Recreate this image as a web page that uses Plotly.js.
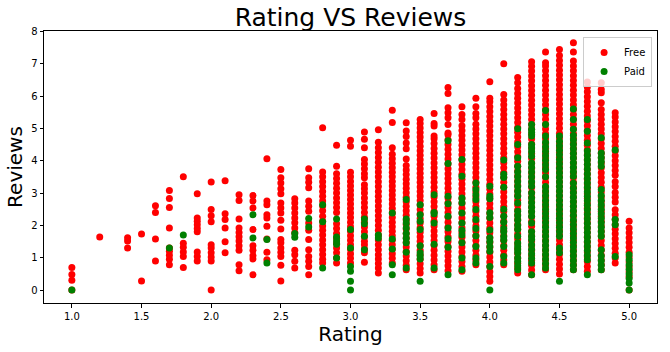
<!DOCTYPE html>
<html>
<head>
<meta charset="utf-8">
<script src="https://cdn.plot.ly/plotly-3.0.1.min.js"></script>
<style>html,body{margin:0;padding:0;background:#fff}#chart{width:670px;height:352px}</style>
</head>
<body>
<div id="chart"></div>
<script>
// Ratings (x) and log10(Reviews) values (y), per rating column
const freeRatings = [1.0, 1.2, 1.4, 1.5, 1.6, 1.7, 1.8, 1.9, 2.0, 2.1, 2.2, 2.3, 2.4, 2.5, 2.6, 2.7, 2.8, 2.9,
  3.0, 3.1, 3.2, 3.3, 3.4, 3.5, 3.6, 3.7, 3.8, 3.9, 4.0, 4.1, 4.2, 4.3, 4.4, 4.5, 4.6, 4.7, 4.8, 4.9, 5.0];
const freeReviews = [
  [0, 0.30, 0.48, 0.70],
  [1.64],
  [1.30, 1.52, 1.62],
  [0.28, 1.73],
  [0.90, 1.58, 2.40, 2.61],
  [0.78, 0.95, 1.08, 1.20, 1.30, 1.92, 2.55, 2.83, 3.08],
  [0.70, 1.04, 1.18, 1.32, 1.45, 3.50],
  [0.90, 1.04, 1.18, 1.80, 1.90, 2.02, 2.13, 2.23, 2.98],
  [0, 0.90, 1.02, 1.15, 1.30, 1.40, 2.11, 2.30, 2.49, 3.34],
  [1.15, 1.49, 1.92, 2.18, 2.36, 3.38],
  [0.60, 0.78, 1.23, 1.37, 1.52, 1.65, 1.78, 1.92, 2.20, 2.77, 2.95],
  [0.47, 0.96, 1.06, 1.23, 1.37, 1.87, 2.54, 2.75, 2.92],
  [0.94, 1.17, 1.58, 1.97, 2.23, 2.33, 2.64, 2.75, 4.06],
  [0.28, 0.77, 1.04, 1.17, 1.30, 1.46, 1.56, 1.89, 2.16, 2.38, 2.54, 2.69, 2.98, 3.13, 3.31, 3.47, 3.73],
  [0.68, 0.89, 1.09, 1.23, 1.77, 1.92, 2.08, 2.23, 2.38, 2.54, 2.69, 2.82],
  [0.47, 0.73, 0.89, 1.04, 1.25, 1.56, 1.85, 2.07, 2.44, 2.59, 2.75, 3.16, 3.33, 3.47, 3.75],
  [0.84, 0.95, 1.10, 1.25, 1.40, 1.55, 1.70, 1.85, 1.98, 2.13, 2.28, 2.45, 2.60, 2.75, 2.90, 3.05, 3.20, 3.35, 3.50, 3.65, 5.02],
  [0.84, 1.00, 1.15, 1.30, 1.45, 1.60, 1.75, 1.90, 2.05, 2.40, 2.55, 2.70, 2.85, 3.00, 3.15, 3.30, 3.45, 3.60, 3.83, 4.48],
  [0.84, 0.98, 1.12, 1.26, 1.40, 1.54, 1.68, 1.82, 1.96, 2.10, 2.24, 2.38, 2.52, 2.66, 2.80, 2.94, 3.08, 3.22, 3.36, 3.50, 3.64, 4.45, 4.63],
  [0.86, 1.15, 1.27, 1.40, 1.51, 1.65, 1.80, 1.95, 2.10, 2.25, 2.40, 2.55, 2.70, 2.85, 3.00, 3.13, 3.26, 3.47, 3.60, 3.75, 3.90, 4.04, 4.40, 4.66, 4.89],
  [0.53, 0.68, 0.82, 0.96, 1.09, 1.25, 1.40, 1.55, 1.70, 1.85, 2.00, 2.15, 2.30, 2.45, 2.60, 2.75, 2.90, 3.05, 3.20, 3.35, 3.50, 3.65, 3.80, 3.95, 4.10, 4.25, 4.40, 4.57, 4.96],
  [0.84, 0.98, 1.12, 1.26, 1.40, 1.54, 1.68, 1.82, 1.96, 2.10, 2.24, 2.38, 2.52, 2.66, 2.80, 2.94, 3.08, 3.22, 3.36, 3.50, 3.64, 3.78, 3.92, 4.06, 4.20, 4.40, 5.18, 5.56],
  [0.63, 0.77, 0.91, 1.05, 1.19, 1.33, 1.47, 1.61, 1.75, 1.89, 2.03, 2.17, 2.31, 2.45, 2.59, 2.73, 2.87, 3.01, 3.15, 3.29, 3.43, 3.57, 3.71, 3.85, 4.05, 4.37, 4.55, 4.75, 4.92, 5.17],
  [0.53, 0.67, 0.81, 0.95, 1.09, 1.23, 1.37, 1.51, 1.65, 1.79, 1.93, 2.07, 2.21, 2.35, 2.49, 2.63, 2.77, 2.91, 3.05, 3.19, 3.33, 3.47, 3.61, 3.75, 3.89, 4.03, 4.17, 4.31, 4.45, 4.59, 4.73, 4.87, 5.01, 5.15, 5.27],
  [0.63, 0.78, 0.93, 1.08, 1.23, 1.38, 1.53, 1.68, 1.83, 1.98, 2.13, 2.28, 2.43, 2.58, 2.73, 2.88, 3.03, 3.18, 3.33, 3.48, 3.63, 3.78, 3.93, 4.08, 4.23, 4.38, 4.53, 4.68, 4.76, 5.07, 5.15, 5.46],
  [0.60, 0.75, 0.90, 1.05, 1.20, 1.35, 1.50, 1.65, 1.80, 1.95, 2.10, 2.25, 2.40, 2.55, 2.70, 2.85, 3.00, 3.15, 3.30, 3.45, 3.60, 3.75, 3.90, 4.05, 4.20, 4.35, 4.50, 4.65, 4.80, 4.86, 5.12, 5.33, 5.48, 5.64, 6.08, 6.26],
  [0.58, 0.73, 0.88, 1.03, 1.18, 1.33, 1.48, 1.63, 1.78, 1.93, 2.08, 2.23, 2.38, 2.53, 2.68, 2.83, 2.98, 3.13, 3.28, 3.43, 3.58, 3.73, 3.88, 4.03, 4.18, 4.33, 4.48, 4.63, 4.78, 4.93, 5.08, 5.27, 5.43, 5.67],
  [0.78, 0.93, 1.08, 1.23, 1.38, 1.53, 1.68, 1.83, 1.98, 2.13, 2.28, 2.43, 2.58, 2.73, 2.88, 3.03, 3.18, 3.33, 3.48, 3.63, 3.78, 3.93, 4.08, 4.23, 4.38, 4.53, 4.68, 4.83, 4.98, 5.13, 5.33, 5.46, 5.67, 5.93],
  [0.27, 0.42, 0.57, 0.72, 0.87, 1.02, 1.17, 1.32, 1.47, 1.62, 1.77, 1.92, 2.07, 2.22, 2.37, 2.52, 2.67, 2.82, 2.97, 3.12, 3.27, 3.42, 3.57, 3.72, 3.87, 4.02, 4.17, 4.32, 4.47, 4.62, 4.77, 4.92, 5.07, 5.22, 5.37, 5.52, 5.67, 5.82, 5.93, 6.44],
  [0.78, 0.93, 1.08, 1.23, 1.38, 1.53, 1.68, 1.83, 1.98, 2.13, 2.28, 2.43, 2.58, 2.73, 2.88, 3.03, 3.18, 3.33, 3.48, 3.63, 3.78, 3.93, 4.08, 4.23, 4.38, 4.53, 4.68, 4.83, 4.98, 5.13, 5.28, 5.43, 5.58, 5.73, 5.88, 6.05, 7.00],
  [0.53, 0.68, 0.83, 0.98, 1.13, 1.28, 1.43, 1.58, 1.73, 1.88, 2.03, 2.18, 2.33, 2.48, 2.63, 2.78, 2.93, 3.08, 3.23, 3.38, 3.53, 3.68, 3.83, 3.98, 4.13, 4.28, 4.43, 4.58, 4.73, 4.88, 5.03, 5.18, 5.33, 5.48, 5.63, 5.78, 5.93, 6.08, 6.23, 6.41, 6.57],
  [0.47, 0.62, 0.77, 0.92, 1.07, 1.22, 1.37, 1.52, 1.67, 1.82, 1.97, 2.12, 2.27, 2.42, 2.57, 2.72, 2.87, 3.02, 3.17, 3.32, 3.47, 3.62, 3.77, 3.92, 4.07, 4.22, 4.37, 4.52, 4.67, 4.82, 4.97, 5.12, 5.27, 5.42, 5.57, 5.72, 5.87, 6.02, 6.17, 6.32, 6.47, 6.62, 6.77, 6.92, 7.06],
  [0.63, 0.78, 0.93, 1.08, 1.23, 1.38, 1.53, 1.68, 1.83, 1.98, 2.13, 2.28, 2.43, 2.58, 2.73, 2.88, 3.03, 3.18, 3.33, 3.48, 3.63, 3.78, 3.93, 4.08, 4.23, 4.38, 4.53, 4.68, 4.83, 4.98, 5.13, 5.28, 5.43, 5.58, 5.73, 5.88, 6.03, 6.18, 6.33, 6.48, 6.63, 6.78, 6.93, 7.03, 7.36],
  [0.50, 0.65, 0.80, 0.95, 1.10, 1.25, 1.40, 1.55, 1.70, 1.85, 2.00, 2.15, 2.30, 2.45, 2.60, 2.75, 2.90, 3.05, 3.20, 3.35, 3.50, 3.65, 3.80, 3.95, 4.10, 4.25, 4.40, 4.55, 4.70, 4.85, 5.00, 5.15, 5.30, 5.45, 5.60, 5.75, 5.90, 6.05, 6.20, 6.35, 6.50, 6.65, 6.80, 6.95, 7.10, 7.25, 7.44],
  [0.63, 0.78, 0.93, 1.08, 1.23, 1.38, 1.53, 1.68, 1.83, 1.98, 2.13, 2.28, 2.43, 2.58, 2.73, 2.88, 3.03, 3.18, 3.33, 3.48, 3.63, 3.78, 3.93, 4.08, 4.23, 4.38, 4.53, 4.68, 4.83, 4.98, 5.13, 5.28, 5.43, 5.58, 5.73, 5.88, 6.03, 6.18, 6.33, 6.48, 6.63, 6.78, 6.93, 7.08, 7.36, 7.65],
  [0.58, 0.73, 0.88, 1.03, 1.18, 1.33, 1.48, 1.63, 1.78, 1.93, 2.08, 2.23, 2.38, 2.53, 2.68, 2.83, 2.98, 3.13, 3.28, 3.43, 3.58, 3.73, 3.88, 4.03, 4.18, 4.33, 4.48, 4.63, 4.78, 4.93, 5.08, 5.23, 5.38, 5.53, 5.68, 5.83, 5.98, 6.13, 6.28, 6.43],
  [0.63, 0.78, 0.93, 1.08, 1.23, 1.38, 1.53, 1.68, 1.83, 1.98, 2.13, 2.28, 2.43, 2.58, 2.73, 2.88, 3.03, 3.18, 3.33, 3.48, 3.63, 3.78, 3.93, 4.08, 4.23, 4.38, 4.53, 4.68, 4.83, 4.98, 5.13, 5.28, 5.43, 5.58, 5.79, 6.10, 6.20, 6.41],
  [0.84, 0.99, 1.14, 1.29, 1.44, 1.59, 1.74, 1.88, 2.02, 2.18, 2.33, 2.48, 2.72, 2.87, 3.02, 3.20, 3.35, 3.55, 3.70, 3.85, 4.00, 4.15, 4.30, 4.45, 4.60, 4.75, 4.90, 5.05, 5.20, 5.35, 5.48],
  [0, 0.42, 0.57, 0.72, 0.87, 1.02, 1.17, 1.32, 1.47, 1.62, 1.77, 1.92, 2.13]
];

const paidRatings = [1.0, 1.7, 1.8, 2.3, 2.4, 2.6, 2.7, 2.8, 2.9, 3.0, 3.1, 3.2, 3.3, 3.4, 3.5, 3.6, 3.7, 3.8, 3.9,
  4.0, 4.1, 4.2, 4.3, 4.4, 4.5, 4.6, 4.7, 4.8, 4.9, 5.0];
const paidReviews = [
  [0],
  [1.30],
  [1.70],
  [1.61, 2.33],
  [0.84, 1.56],
  [1.63, 1.75],
  [1.95, 2.21],
  [0.68, 2.11, 2.64],
  [0.99, 1.42, 1.52, 1.64, 2.20],
  [0, 0.27, 0.58, 0.73, 1.30, 1.87],
  [1.25, 1.66, 2.05, 2.20],
  [1.61, 1.70],
  [0.47, 0.78, 1.27, 1.58, 2.38],
  [0.68, 1.17, 1.46, 1.60, 1.75, 1.92, 2.07, 2.20, 2.80],
  [0.27, 0.96, 1.06, 1.15, 1.37, 1.87, 2.13, 2.33, 2.64],
  [0.68, 1.42, 2.07, 2.36, 2.40, 2.95],
  [0.47, 1.32, 1.59, 1.92, 2.28, 2.67, 2.90, 3.91, 4.62],
  [0.63, 0.99, 1.46, 1.70, 1.85, 2.07, 2.38, 2.70, 2.85, 3.52, 4.04],
  [0.84, 0.99, 1.35, 1.67, 1.90, 2.18, 2.49, 2.80, 2.95, 3.11, 3.31],
  [0, 0.73, 1.20, 1.35, 1.50, 1.62, 1.86, 2.24, 2.39, 2.82, 2.90, 3.21],
  [0.84, 1.04, 1.35, 1.55, 1.65, 1.80, 1.90, 2.10, 2.28, 2.50, 3.18, 3.48, 3.58, 4.02],
  [0.63, 0.75, 0.88, 1.00, 1.15, 1.25, 1.35, 1.46, 1.66, 1.87, 2.00, 2.16, 2.30, 2.44, 2.69, 2.90, 3.05, 3.20, 3.35, 3.50, 3.65, 3.83, 4.09, 4.50, 4.99],
  [0.47, 0.84, 0.98, 1.12, 1.26, 1.40, 1.56, 1.66, 1.80, 2.07, 2.28, 2.42, 2.56, 2.70, 2.85, 3.00, 3.21, 3.35, 3.50, 3.65, 3.80, 3.93, 4.14, 4.28, 4.40, 4.50, 4.76, 4.87, 4.97, 5.12],
  [0.68, 0.82, 0.96, 1.10, 1.24, 1.38, 1.52, 1.66, 1.80, 1.94, 2.08, 2.22, 2.36, 2.50, 2.64, 2.78, 2.92, 3.06, 3.20, 3.50, 3.73, 3.87, 4.01, 4.15, 4.29, 4.43, 4.57, 4.76, 5.12, 5.55],
  [0.27, 1.15, 1.30, 1.66, 1.80, 1.94, 2.08, 2.22, 2.36, 2.50, 2.64, 2.78, 2.92, 3.06, 3.20, 3.34, 3.48, 3.62, 3.76, 3.90, 4.04, 4.18, 4.32, 4.46, 4.60, 4.76],
  [0.63, 0.77, 0.91, 1.05, 1.19, 1.33, 1.47, 1.61, 1.75, 1.89, 2.03, 2.17, 2.31, 2.45, 2.59, 2.73, 2.87, 3.01, 3.15, 3.30, 3.52, 3.66, 3.80, 3.94, 4.08, 4.22, 4.36, 4.50, 4.64, 4.78, 4.97, 5.27, 5.60],
  [0.47, 0.94, 1.08, 1.22, 1.36, 1.50, 1.64, 1.78, 1.92, 2.06, 2.20, 2.34, 2.48, 2.62, 2.76, 2.90, 3.04, 3.18, 3.32, 3.46, 3.60, 3.74, 3.88, 4.02, 4.16, 4.30, 4.55, 4.91, 5.27],
  [0.63, 0.77, 0.91, 1.05, 1.25, 1.66, 1.80, 1.94, 2.08, 2.22, 2.36, 2.50, 2.64, 2.78, 2.92, 3.11, 3.83, 3.97, 4.10, 4.24, 4.71],
  [1.04, 2.02, 2.18, 4.33],
  [0, 0.22, 0.36, 0.50, 0.64, 0.78, 0.94, 1.09]
];

const xTicks = [1.0, 1.5, 2.0, 2.5, 3.0, 3.5, 4.0, 4.5, 5.0];
const yTicks = [0, 1, 2, 3, 4, 5, 6, 7, 8];

function flatten(ratings, groups) {
  const xs = [], ys = [];
  ratings.forEach((r, i) => groups[i].forEach(v => { xs.push(r); ys.push(v); }));
  return {xs, ys};
}
const free = flatten(freeRatings, freeReviews);
const paid = flatten(paidRatings, paidReviews);

const font = 'DejaVu Sans, sans-serif';
const traces = [
  {type: 'scatter', mode: 'markers', name: 'Free', x: free.xs, y: free.ys,
   marker: {color: '#ff0000', size: 7, line: {width: 0}}},
  {type: 'scatter', mode: 'markers', name: 'Paid', x: paid.xs, y: paid.ys,
   marker: {color: '#008000', size: 7, line: {width: 0}}}
];

const axisCommon = {
  showgrid: false, zeroline: false, showline: true, mirror: true,
  linecolor: '#000', linewidth: 1, ticks: 'outside', ticklen: 3.5, tickwidth: 1, tickcolor: '#000',
  tickfont: {family: font, size: 10, color: '#000'}
};

const layout = {
  width: 670, height: 352,
  margin: {l: 44, r: 13, t: 31, b: 49},
  paper_bgcolor: '#fff', plot_bgcolor: '#fff',
  title: {text: 'Rating VS Reviews', font: {family: font, size: 25, color: '#000'},
          x: 0.5, xref: 'paper', xanchor: 'center', y: 0.952, yref: 'container', yanchor: 'middle'},
  xaxis: Object.assign({}, axisCommon, {
    range: [0.8, 5.2], tickmode: 'array', tickvals: xTicks, tickformat: '.1f',
    title: {text: 'Rating', font: {family: font, size: 20, color: '#000'}, standoff: 6}
  }),
  yaxis: Object.assign({}, axisCommon, {
    range: [-0.40, 8.01], tickmode: 'array', tickvals: yTicks,
    title: {text: 'Reviews', font: {family: font, size: 20, color: '#000'}, standoff: 3}
  }),
  showlegend: true,
  legend: {x: 0.992, xanchor: 'right', y: 0.978, yanchor: 'top',
           bgcolor: 'rgba(255,255,255,0.8)', bordercolor: '#cccccc', borderwidth: 1,
           font: {family: font, size: 10, color: '#000'}, itemwidth: 30, tracegroupgap: 0}
};

Plotly.newPlot('chart', traces, layout, {displayModeBar: false, staticPlot: true});
</script>
</body>
</html>
